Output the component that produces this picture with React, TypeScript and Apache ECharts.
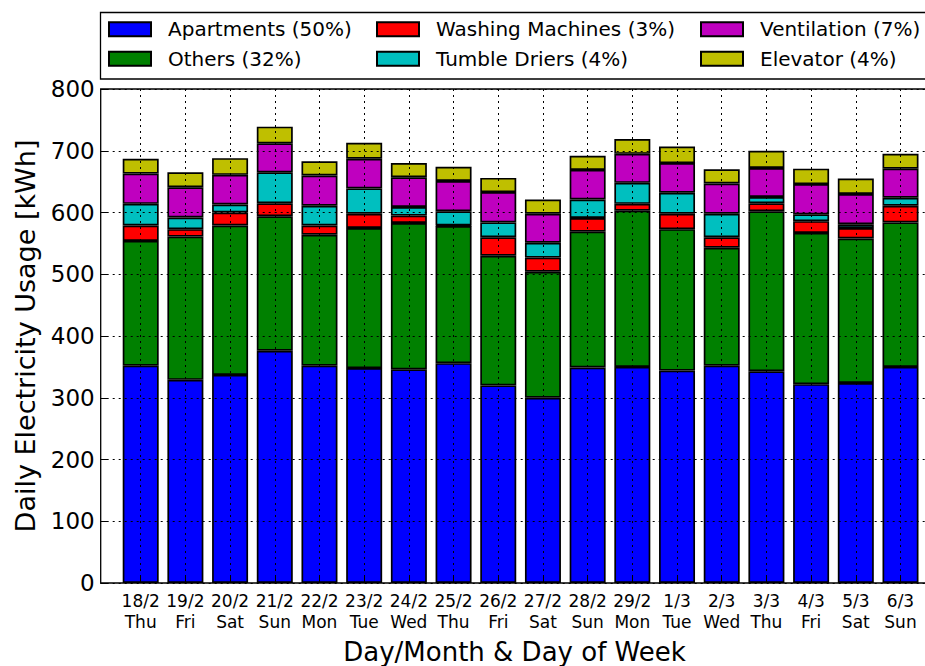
import React, { useEffect, useRef } from "react";
import * as echarts from "echarts";

const dates = ["18/2", "19/2", "20/2", "21/2", "22/2", "23/2", "24/2", "25/2", "26/2", "27/2", "28/2", "29/2", "1/3", "2/3", "3/3", "4/3", "5/3", "6/3"];
const weekdays = ["Thu", "Fri", "Sat", "Sun", "Mon", "Tue", "Wed", "Thu", "Fri", "Sat", "Sun", "Mon", "Tue", "Wed", "Thu", "Fri", "Sat", "Sun"];

const apartments = [352, 329, 337, 376, 352, 348, 346, 356, 320, 300, 349, 350, 344, 352, 343, 322, 324, 350];
const others = [202, 232, 242, 218, 212, 227, 237, 222, 210, 204, 220, 253, 229, 191, 259, 245, 234, 234];
const washing = [25, 12, 21, 21, 15, 23, 12, 1, 30, 23, 22, 11, 25, 17, 13, 19, 17, 27];
const tumble = [35, 19, 13, 50, 32, 41, 14, 23, 24, 24, 30, 34, 34, 38, 10, 11, 6, 13];
const ventilation = [49, 49, 48, 47, 49, 48, 48, 49, 49, 47, 48, 47, 48, 49, 47, 49, 49, 47];
const elevator = [24, 24, 27, 27, 23, 26, 23, 23, 23, 23, 23, 24, 27, 23, 28, 25, 25, 24];

const seriesNames = [
  "Apartments (50%)",
  "Others (32%)",
  "Washing Machines (3%)",
  "Tumble Driers (4%)",
  "Ventilation (7%)",
  "Elevator (4%)",
];
const seriesColors = ["#0000ff", "#008000", "#ff0000", "#00bfbf", "#bf00bf", "#bfbf00"];
const seriesValues = [apartments, others, washing, tumble, ventilation, elevator];

const yTicks = { min: 0, max: 800, interval: 100 };

const FONT = "DejaVu Sans, Noto Sans, sans-serif";

export default function App() {
  const ref = useRef<HTMLDivElement>(null);

  useEffect(() => {
    document.body.style.margin = "0";
    if (!ref.current) return;
    const chart = echarts.init(ref.current, undefined, { renderer: "svg" });

    const categories = dates.map((d, i) => `${d}\n${weekdays[i]}`);
    const dotted = { color: "#000", width: 1, type: [2, 4] as number[] };

    const legendBase = {
      orient: "vertical" as const,
      top: 19.3,
      padding: 0,
      itemWidth: 42,
      itemHeight: 14,
      itemGap: 9.5,
      icon: "rect",
      selectedMode: false,
      textStyle: {
        fontFamily: FONT,
        fontSize: 20,
        color: "#000",
        lineHeight: 20,
        padding: [0, 0, 0, 12],
      },
    };

    chart.setOption({
      animation: false,
      backgroundColor: "#fff",
      textStyle: { fontFamily: FONT },
      legend: [
        { ...legendBase, left: 108, data: [seriesNames[0], seriesNames[1]] },
        { ...legendBase, left: 376, data: [seriesNames[2], seriesNames[3]] },
        { ...legendBase, left: 700, data: [seriesNames[4], seriesNames[5]] },
      ],
      graphic: [
        {
          type: "rect",
          z: -1,
          shape: { x: 100.5, y: 12.5, width: 900, height: 66.5 },
          style: { fill: "#fff", stroke: "#000", lineWidth: 1.3 },
        },
      ],
      grid: [
        {
          left: 140.7,
          right: 24.5,
          top: 89,
          bottom: 83,
          containLabel: false,
          outerBoundsMode: "none",
        },
        {
          left: 100.7,
          right: -3.3,
          top: 89,
          bottom: 83,
          show: true,
          borderColor: "#000",
          borderWidth: 1.3,
          backgroundColor: "transparent",
          containLabel: false,
          outerBoundsMode: "none",
        },
      ],
      xAxis: [
        {
          type: "category",
          gridIndex: 0,
          data: categories,
          boundaryGap: false,
          z: 3,
          axisLine: { show: false },
          axisTick: { show: true, inside: true, length: 7, interval: 0, lineStyle: { color: "#000" } },
          axisLabel: {
            interval: 0,
            fontFamily: FONT,
            fontSize: 17,
            lineHeight: 20.5,
            color: "#000",
            margin: 8,
          },
          splitLine: { show: true, interval: 0, lineStyle: dotted },
        },
        {
          type: "value",
          gridIndex: 1,
          min: 0,
          max: 1,
          axisLine: { show: false },
          axisTick: { show: false },
          axisLabel: { show: false },
          splitLine: { show: false },
          name: "Day/Month & Day of Week",
          nameLocation: "middle",
          nameGap: 56,
          nameTextStyle: { fontFamily: FONT, fontSize: 26, color: "#000" },
        },
      ],
      yAxis: [
        {
          type: "value",
          gridIndex: 0,
          show: false,
          min: yTicks.min,
          max: yTicks.max,
          interval: yTicks.interval,
        },
        {
          type: "value",
          gridIndex: 1,
          min: yTicks.min,
          max: yTicks.max,
          interval: yTicks.interval,
          z: 3,
          axisLine: { show: false },
          axisTick: { show: true, inside: true, length: 7, lineStyle: { color: "#000" } },
          axisLabel: { fontFamily: FONT, fontSize: 23, color: "#000", margin: 6 },
          splitLine: { show: true, lineStyle: dotted },
          name: "Daily Electricity Usage [kWh]",
          nameLocation: "middle",
          nameGap: 62,
          nameTextStyle: { fontFamily: FONT, fontSize: 27, color: "#000" },
        },
      ],
      series: seriesNames.map((name, i) => ({
        name,
        type: "bar",
        stack: "total",
        xAxisIndex: 0,
        yAxisIndex: 0,
        barWidth: 36,
        clip: false,
        data: seriesValues[i],
        itemStyle: { color: seriesColors[i], borderColor: "#000", borderWidth: 1.7 },
        emphasis: { disabled: true },
      })),
    });

    return () => chart.dispose();
  }, []);

  return <div ref={ref} style={{ width: 925, height: 666 }} />;
}
